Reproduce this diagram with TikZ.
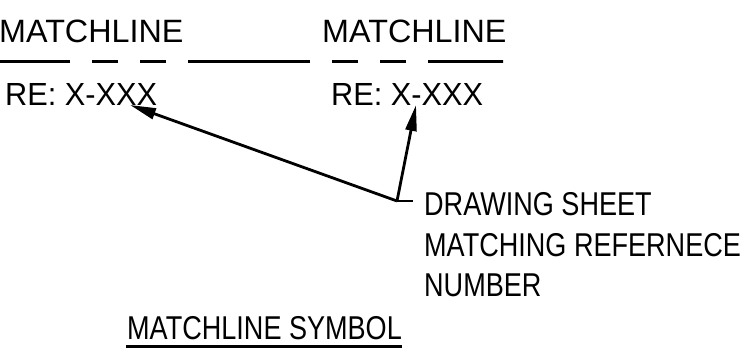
\documentclass[tikz,border=0pt]{standalone}
\usepackage{fontspec}
\setmainfont{Liberation Sans}
\newfontfamily\condfont[FakeStretch=0.82]{Liberation Sans}
\newfontfamily\refont[FakeStretch=0.96]{Liberation Sans}
\usetikzlibrary{arrows.meta}
\tikzset{
  wide/.style={anchor=base west,inner sep=0pt,font=\fontsize{32.3}{32.3}\selectfont},
  refs/.style={anchor=base west,inner sep=0pt,font=\refont\fontsize{32}{32}\selectfont},
  cond/.style={anchor=base west,inner sep=0pt,font=\condfont\fontsize{33}{33}\selectfont},
  ln/.style={line width=3pt,black},
  lead/.style={line width=2.8pt,black,-{Triangle[length=26pt,width=11pt]}}
}
\begin{document}
\begin{tikzpicture}[x=1pt,y=-1pt]
\useasboundingbox (0,0) rectangle (743,355);
\node[wide] (m1) at (-1,43) {MATCHLINE};
\node[wide] (m2) at (322,43) {MATCHLINE};
\node[refs] (r1) at (5,106) {RE: X-XXX};
\node[refs] (r2) at (331,106) {RE: X-XXX};
\node[cond] (t1) at (424,215) {DRAWING SHEET};
\node[cond] (t2) at (424,256) {MATCHING REFERNECE};
\node[cond] (t3) at (424,296) {NUMBER};
\node[cond] (title) at (127,339) {MATCHLINE SYMBOL};
\coordinate (ls) at (0,61.5);
\coordinate (le) at (503,61.5);
\coordinate (tip1) at (130,105);
\coordinate (tip2) at (416,105);
\coordinate (elbow) at (397,201);
\coordinate (tail) at (413,201);
\coordinate (us) at (126,346);
\coordinate (ue) at (402,346);
\draw[ln,dash pattern=on 70pt off 22pt on 26pt off 22pt on 26pt off 22pt on 122pt off 22pt on 26pt off 22pt on 26pt off 22pt on 75pt off 0pt] (ls) -- (le);
\draw[lead] (elbow) -- (tip1);
\draw[lead] (elbow) -- (tip2);
\draw[line width=2.8pt] (elbow) -- (tail);
\draw[ln] (us) -- (ue);
\end{tikzpicture}
\end{document}
